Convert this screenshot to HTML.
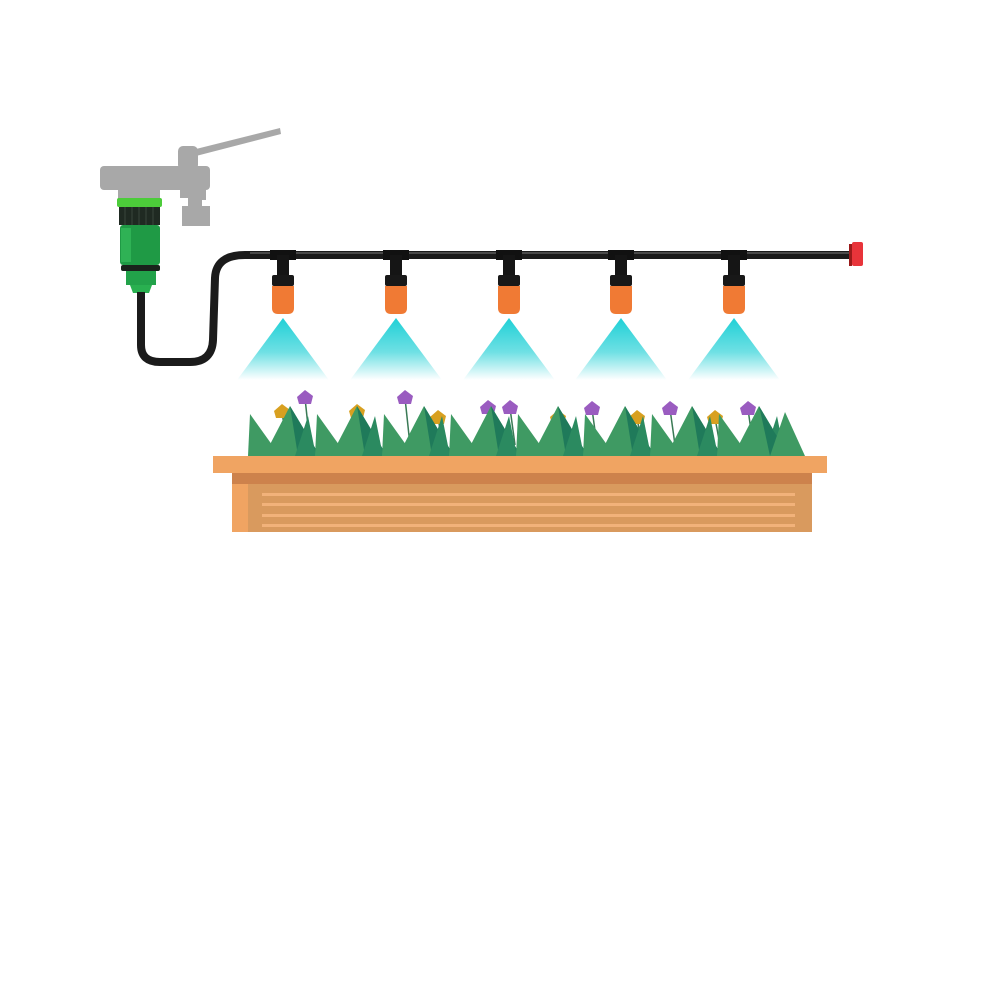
<!DOCTYPE html>
<html><head><meta charset="utf-8"><style>html,body{margin:0;padding:0;background:#fff}svg{display:block}</style></head>
<body>
<svg id="s" width="1000" height="1000" viewBox="0 0 1000 1000" xmlns="http://www.w3.org/2000/svg">
<defs>
<linearGradient id="spray" x1="0" y1="0" x2="0" y2="1">
<stop offset="0" stop-color="#1fd0d6"/><stop offset="0.55" stop-color="#6fe0e4"/><stop offset="1" stop-color="#ffffff"/>
</linearGradient>
</defs>
<!-- faucet -->
<g fill="#a8a8a8">
<path d="M192 150 L280 128 L281 134 L196 156 Z"/>
<rect x="178" y="146" width="20" height="24" rx="5"/>
<rect x="100" y="166" width="110" height="24" rx="4"/>
<rect x="118" y="186" width="42" height="14"/>
<path d="M180 186 h26 v14 h-4 v6 h8 v20 h-28 v-20 h6 v-8 h-8z"/>
</g>
<!-- connector -->
<rect x="117" y="198" width="45" height="9" rx="2" fill="#4ccc3a"/>
<rect x="119" y="207" width="41" height="18" fill="#1f2a22"/>
<g stroke="#3a463c" stroke-width="1"><line x1="125" y1="207" x2="125" y2="225"/><line x1="132" y1="207" x2="132" y2="225"/><line x1="139" y1="207" x2="139" y2="225"/><line x1="146" y1="207" x2="146" y2="225"/><line x1="153" y1="207" x2="153" y2="225"/></g>
<rect x="120" y="225" width="40" height="40" rx="3" fill="#1f9a45"/>
<rect x="121" y="228" width="10" height="34" fill="#2fb255"/>
<rect x="121" y="265" width="39" height="6" rx="2" fill="#1a221c"/>
<rect x="126" y="271" width="30" height="14" fill="#22a24a"/>
<path d="M130 285 h22 l-3 8 h-16z" fill="#29b050"/>
<!-- pipe -->
<path d="M141 292 L141 345 Q141 362 160 362 L190 362 Q212 362 213 340 L215 278 Q216 255 245 255 L852 255" fill="none" stroke="#1b1b1b" stroke-width="8"/>
<path d="M250 253 L852 253" stroke="#5a5a5a" stroke-width="1.5"/>
<rect x="849" y="244" width="3" height="22" fill="#9a1a1a"/>
<rect x="852" y="242" width="11" height="24" rx="2" fill="#e8343a"/>
<g id="noz"></g>
<g id="grass"></g>
<!-- planter -->
<rect x="213" y="456" width="614" height="17" fill="#f0a462"/>
<rect x="232" y="473" width="580" height="59" fill="#d99a5e"/>
<rect x="232" y="473" width="580" height="11" fill="#cd824c"/>
<rect x="232" y="484" width="16" height="48" fill="#f0a462"/>
<g fill="#f2b27a"><rect x="262" y="493" width="533" height="3"/><rect x="262" y="503" width="533" height="3"/><rect x="262" y="514" width="533" height="3"/><rect x="262" y="524" width="533" height="3"/></g>
<script>
var ns="http://www.w3.org/2000/svg";
function el(p,t,a){var e=document.createElementNS(ns,t);for(var k in a)e.setAttribute(k,a[k]);p.appendChild(e);return e;}
var n=document.getElementById("noz");
[283,396,509,621,734].forEach(function(x){
 el(n,"path",{d:"M"+x+" 318 L"+(x-46)+" 380 L"+(x+46)+" 380 Z",fill:"url(#spray)"});
 el(n,"rect",{x:x-13,y:250,width:26,height:10,fill:"#111"});
 el(n,"rect",{x:x-6,y:255,width:12,height:22,fill:"#151515"});
 el(n,"rect",{x:x-11,y:275,width:22,height:11,rx:2,fill:"#181818"});
 el(n,"path",{d:"M"+(x-11)+" 286 h22 v22 q0 6 -6 6 h-10 q-6 0 -6 -6z",fill:"#f07a34"});
});
var g=document.getElementById("grass");
var fl=[[282,412,"#d8a020"],[305,398,"#9a5cc0"],[357,412,"#d8a020"],[405,398,"#9a5cc0"],[438,418,"#d8a020"],[488,408,"#9a5cc0"],[510,408,"#9a5cc0"],[558,418,"#d8a020"],[592,409,"#9a5cc0"],[637,418,"#d8a020"],[670,409,"#9a5cc0"],[715,418,"#d8a020"],[748,409,"#9a5cc0"]];
fl.forEach(function(f){el(g,"line",{x1:f[0],y1:f[1],x2:f[0]+5,y2:445,stroke:"#3a7a55","stroke-width":1.5});});
fl.forEach(function(f){el(g,"polygon",{points:(f[0]-8)+","+(f[1]-1)+" "+f[0]+","+(f[1]-8)+" "+(f[0]+8)+","+(f[1]-2)+" "+(f[0]+6)+","+(f[1]+6)+" "+(f[0]-6)+","+(f[1]+6),fill:f[2]});});
for(var x=250;x<740;x+=67){
 el(g,"polygon",{points:x+",414 "+(x+30)+",456 "+(x-2)+",456",fill:"#3f9a63"});
 el(g,"polygon",{points:(x+14)+",456 "+(x+40)+",406 "+(x+70)+",456",fill:"#3f9a63"});
 el(g,"polygon",{points:(x+40)+",406 "+(x+70)+",456 "+(x+48)+",456",fill:"#1f7a5a"});
 el(g,"polygon",{points:(x+45)+",456 "+(x+58)+",416 "+(x+66)+",456",fill:"#2b8a60"});
}
el(g,"polygon",{points:"735,456 760,410 790,456",fill:"#3f9a63"});
el(g,"polygon",{points:"760,410 790,456 770,456",fill:"#1f7a5a"});
el(g,"polygon",{points:"770,456 785,412 805,456",fill:"#3f9a63"});
</script>
</svg>
</body></html>
